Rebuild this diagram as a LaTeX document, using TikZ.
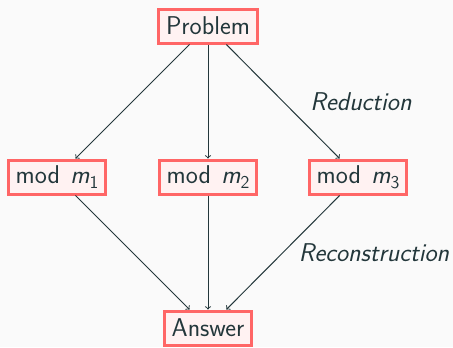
\documentclass[tikz,border=0pt]{standalone}
\usepackage{fontspec}
\definecolor{ink}{HTML}{23373B}
\definecolor{bg}{HTML}{FAFAFA}
\definecolor{boxline}{HTML}{FF6666}
\definecolor{boxfill}{HTML}{FFF2F2}
\newcommand{\subn}[1]{\raisebox{-0.45ex}{\fontsize{13.5}{15}\selectfont #1}}
\newcommand{\modm}[1]{mod\hspace{0.4em}{\itshape m}\subn{#1}}
\begin{document}
\begin{tikzpicture}[x=0.75pt,y=-0.75pt,
  font=\sffamily\fontsize{19.3}{23}\selectfont,
  every node/.style={text=ink},
  stepbox/.style={draw=boxline,fill=boxfill,line width=2.25pt,
    inner xsep=5.6pt,inner ysep=0pt,minimum height=25.5pt},
  conn/.style={draw=ink,line width=0.75pt,->},
  lbl/.style={font=\sffamily\itshape\fontsize{19.3}{23}\selectfont,inner sep=0pt}]
\fill[bg] (0,0) rectangle (453,347);
\useasboundingbox (0,0) rectangle (453,347);
\node[stepbox] (p) at (208,26) {Problem};
\node[stepbox] (m1) at (57,177) {\modm{1}};
\node[stepbox] (m2) at (208,177) {\modm{2}};
\node[stepbox] (m3) at (358,177) {\modm{3}};
\node[stepbox] (a) at (208,328) {Answer};
\draw[conn] (p) -- (m1);
\draw[conn] (p) -- (m2);
\draw[conn] (p) -- (m3);
\draw[conn] (m1) -- (a);
\draw[conn] (m2) -- (a);
\draw[conn] (m3) -- (a);
\node[lbl] (red) at (361,102) {Reduction};
\node[lbl] (rec) at (374,253) {Reconstruction};
\end{tikzpicture}
\end{document}
